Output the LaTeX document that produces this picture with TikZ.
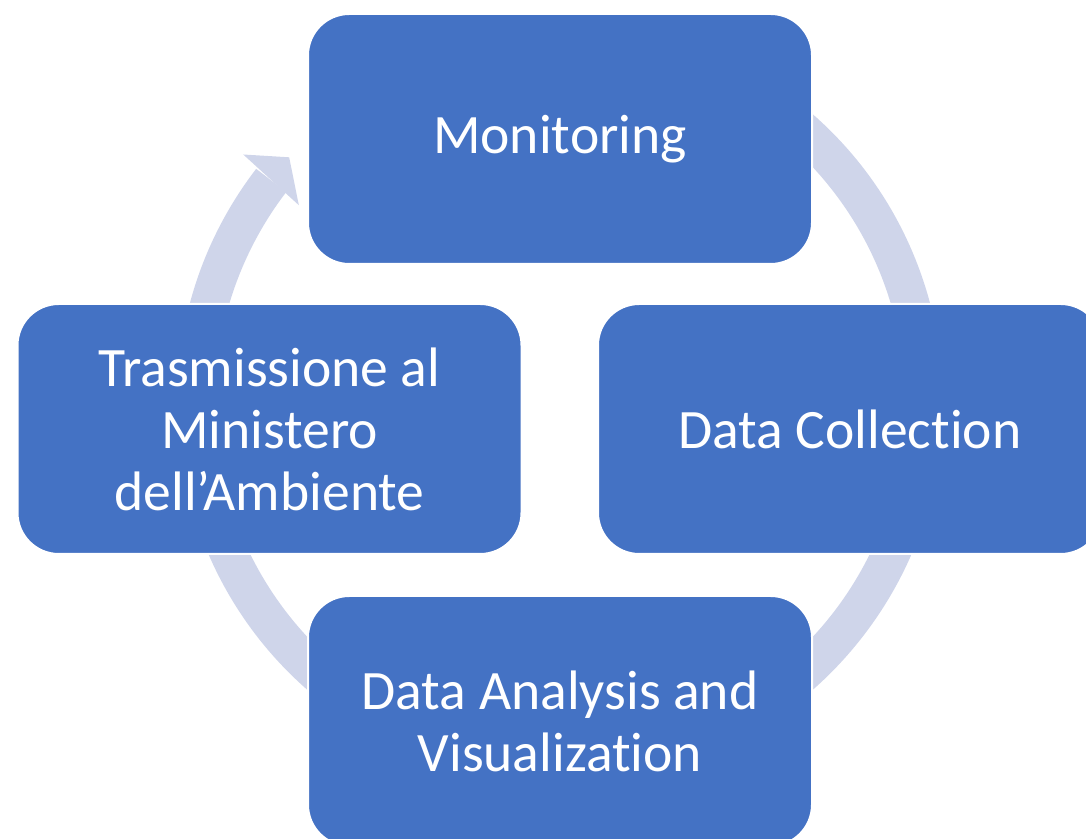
\documentclass[tikz,border=0pt]{standalone}
\usepackage{fontspec}
\setmainfont{Carlito}[Ligatures={NoCommon}]
\usepackage{tikz}
\definecolor{blufase}{HTML}{4472C4}
\definecolor{lilla}{HTML}{CFD5EA}
\tikzstyle{fase} = [draw=white, line width=1.5pt, fill=blufase, rectangle, rounded corners=31pt, minimum width=378pt, minimum height=187.5pt, inner sep=0pt, text=white, align=center, font=\fontsize{41.7}{46.5}\selectfont]
\tikzstyle{anello} = [fill=lilla]

\begin{document}
\begin{tikzpicture}[x=0.75pt, y=0.75pt]
	\useasboundingbox (0,0) rectangle (1086,839);
	\clip (0,0) rectangle (1086,839);
	% anello con freccia
	\begin{scope}[shift={(560,437)}]
		\fill[anello] (142.5:383) arc[start angle=142.5, end angle=450, radius=383] -- (450:345) arc[start angle=450, end angle=142.5, radius=345] -- cycle;
		\fill[anello] (142:402) -- (137.9:365) -- (143:327) -- cycle;
	\end{scope}
	% fasi
	\node[fase] (monit) at (560,700) {Monitoring};
	\node[fase] (raccolta) at (850,410) {Data Collection};
	\node[fase] (analisi) at (560,118) {Data Analysis and\\Visualization};
	\node[fase] (trasm) at (269.5,410) {Trasmissione al\\Ministero\\dell’Ambiente};
\end{tikzpicture}
\end{document}
